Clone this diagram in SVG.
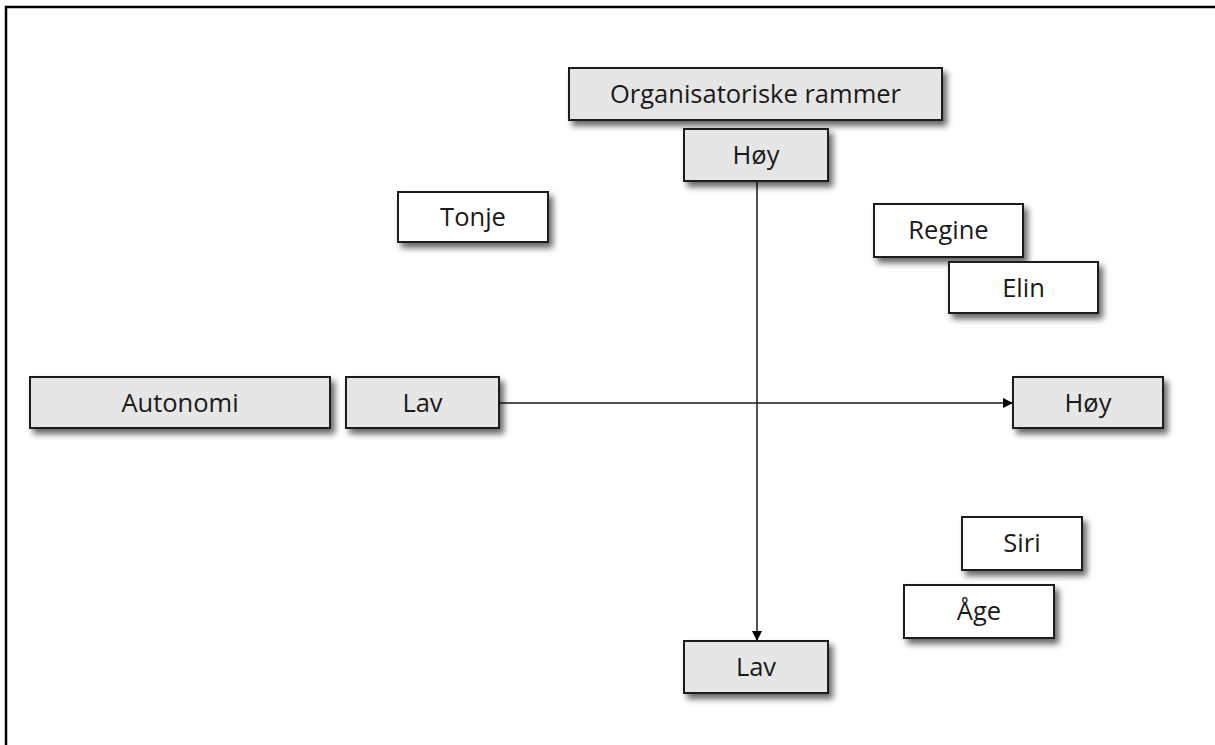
<svg xmlns="http://www.w3.org/2000/svg" width="1215" height="745" viewBox="0 0 1215 745">
<defs>
<filter id="sh" x="-20%" y="-30%" width="140%" height="170%">
<feDropShadow dx="4" dy="5" stdDeviation="3" flood-color="#000" flood-opacity="0.6"/>
</filter>
<marker id="ah" viewBox="0 0 10 10" refX="10" refY="5" markerWidth="10" markerHeight="10" markerUnits="userSpaceOnUse" orient="auto">
<path d="M0,0 L10,5 L0,10 z" fill="#000"/>
</marker>
<style>
.g{fill:#e6e6e6;stroke:#1a1a1a;stroke-width:2;filter:url(#sh)}
.w{fill:#fff;stroke:#1a1a1a;stroke-width:2;filter:url(#sh)}
.t{font-family:"Open Sans","Noto Sans",sans-serif;font-size:25.5px;fill:#1a1a1a;text-anchor:middle;dominant-baseline:central}
.c{stroke:#1a1a1a;stroke-width:1.5;fill:none;marker-end:url(#ah)}
</style>
</defs>
<rect width="1215" height="745" fill="#fff"/>
<rect x="6" y="7" width="1230" height="760" fill="none" stroke="#000" stroke-width="2.5"/>
<g id="connectors">
<line class="c" x1="757" y1="181" x2="757" y2="641"/>
<line class="c" x1="499" y1="403" x2="1013" y2="403"/>
</g>
<g id="org"><rect class="g" x="569" y="68" width="373" height="52"/><text class="t" x="755.5" y="93">Organisatoriske rammer</text></g>
<g id="hoy-top"><rect class="g" x="684" y="129" width="144" height="52"/><text class="t" x="756" y="154">Høy</text></g>
<g id="tonje"><rect class="w" x="398" y="192" width="150" height="50"/><text class="t" x="473" y="216">Tonje</text></g>
<g id="regine"><rect class="w" x="874" y="204" width="149" height="53"/><text class="t" x="948.5" y="229">Regine</text></g>
<g id="elin"><rect class="w" x="949" y="262" width="149" height="51"/><text class="t" x="1023.5" y="287">Elin</text></g>
<g id="autonomi"><rect class="g" x="30" y="377" width="300" height="51"/><text class="t" x="180" y="402">Autonomi</text></g>
<g id="lav-left"><rect class="g" x="346" y="377" width="153" height="51"/><text class="t" x="422.5" y="402">Lav</text></g>
<g id="hoy-right"><rect class="g" x="1013" y="377" width="150" height="51"/><text class="t" x="1088" y="402">Høy</text></g>
<g id="siri"><rect class="w" x="962" y="517" width="120" height="53"/><text class="t" x="1022" y="542">Siri</text></g>
<g id="age"><rect class="w" x="904" y="585" width="150" height="53"/><text class="t" x="979" y="610">Åge</text></g>
<g id="lav-bottom"><rect class="g" x="684" y="641" width="144" height="52"/><text class="t" x="756" y="666">Lav</text></g>
</svg>
